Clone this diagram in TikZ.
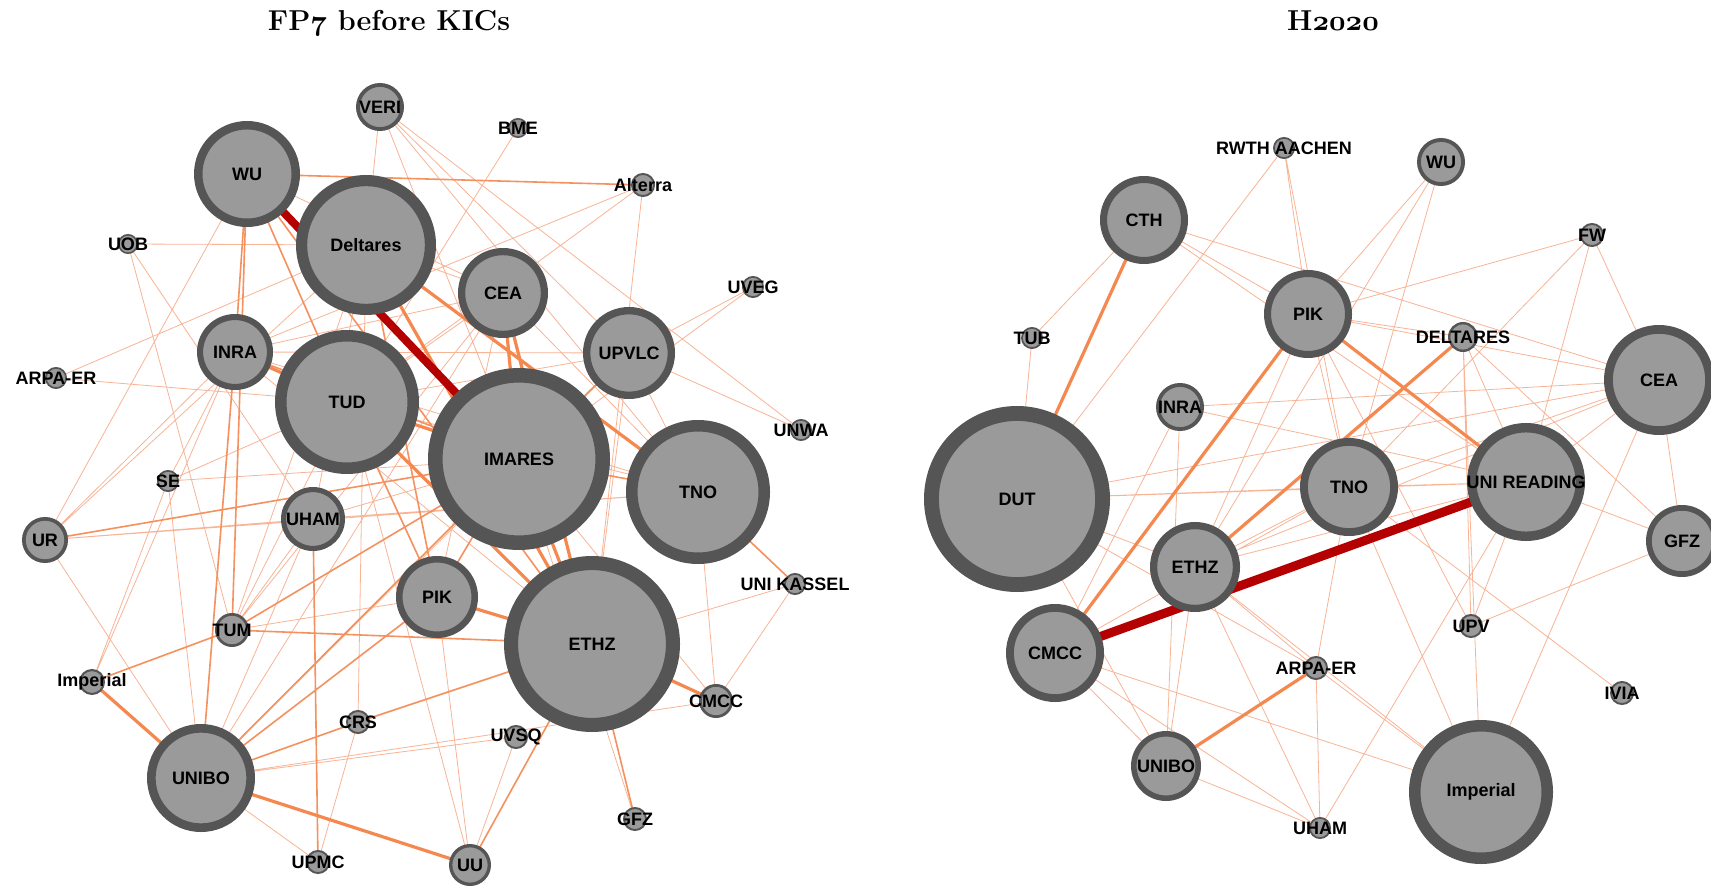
\documentclass[tikz,border=0pt]{standalone}
\usepackage{fontspec}
\newfontfamily\orgfont{Liberation Sans}
\usetikzlibrary{backgrounds}
\definecolor{orgFill}{HTML}{9A9A9A}
\definecolor{orgRim}{HTML}{555555}
\definecolor{lnkPale}{HTML}{F8B596}
\definecolor{lnkMid}{HTML}{F4915E}
\definecolor{lnkBold}{HTML}{F5884F}
\definecolor{lnkRed}{HTML}{B40000}
\newcommand{\osf}[1]{{\fontencoding{OML}\fontfamily{cmm}\fontseries{b}\fontshape{it}\selectfont #1}}
\newcommand{\lbl}{\orgfont\bfseries\fontsize{9}{10}\selectfont}

\tikzset{
  org/.style={circle,draw=orgRim,fill=orgFill,inner sep=0pt,outer sep=0pt,
              line width=0.08pt*#1,minimum size=0.92pt*#1},
  ttl/.style={font=\bfseries\fontsize{14.4}{16}\selectfont,anchor=base,inner sep=0pt},
  lnk/.style={draw=lnkPale,line width=0.4pt},
  lnkmid/.style={draw=lnkMid,line width=0.8pt},
  lnkbold/.style={draw=lnkBold,line width=1.6pt},
  lnkred/.style={draw=lnkRed,line width=4pt}
}

\begin{document}
\begin{tikzpicture}[x=0.5pt,y=-0.5pt,every label/.style={font=\lbl,inner sep=0pt}]
    \path[use as bounding box,clip] (0,0) rectangle (1711,887);

    \node[ttl] (ttlfp) at (389,31) {FP\osf{7} before KICs};
    \node[ttl] (ttlh) at (1333,31) {H\osf{2020}};

    \node[org=24,label=center:VERI] (fveri) at (380,107) {};
    \node[org=10,label=center:BME] (fbme) at (518,128) {};
    \node[org=53,label=center:WU] (fwu) at (247,174) {};
    \node[org=12,label=center:Alterra] (falterra) at (643,185) {};
    \node[org=70,label=center:Deltares] (fdeltares) at (366,245) {};
    \node[org=10,label=center:UOB] (fuob) at (128,244) {};
    \node[org=45,label=center:CEA] (fcea) at (503,293) {};
    \node[org=11,label=center:UVEG] (fuveg) at (753,287) {};
    \node[org=38,label=center:INRA] (finra) at (235,352) {};
    \node[org=46,label=center:UPVLC] (fupvlc) at (629,353) {};
    \node[org=11,label=center:ARPA-ER] (farpa) at (56,378) {};
    \node[org=72,label=center:TUD] (ftud) at (347,402) {};
    \node[org=91,label=center:IMARES] (fimares) at (519,459) {};
    \node[org=11,label=center:UNWA] (funwa) at (801,430) {};
    \node[org=72,label=center:TNO] (ftno) at (698,492) {};
    \node[org=11,label=center:SE] (fse) at (168,481) {};
    \node[org=23,label=center:UR] (fur) at (45,540) {};
    \node[org=32,label=center:UHAM] (fuham) at (313,519) {};
    \node[org=41,label=center:PIK] (fpik) at (437,597) {};
    \node[org=11,label=center:UNI KASSEL] (fkassel) at (795,584) {};
    \node[org=17,label=center:TUM] (ftum) at (232,630) {};
    \node[org=88,label=center:ETHZ] (fethz) at (592,644) {};
    \node[org=13,label=center:Imperial] (fimperial) at (92,682) {};
    \node[org=17,label=center:CMCC] (fcmcc) at (716,701) {};
    \node[org=12,label=center:CRS] (fcrs) at (358,722) {};
    \node[org=12,label=center:UVSQ] (fuvsq) at (516,737) {};
    \node[org=54,label=center:UNIBO] (funibo) at (201,778) {};
    \node[org=12,label=center:GFZ] (fgfz) at (635,819) {};
    \node[org=12,label=center:UPMC] (fupmc) at (318,862) {};
    \node[org=21,label=center:UU] (fuu) at (470,865) {};

    \node[org=11,label=center:RWTH AACHEN] (hrwth) at (1284,148) {};
    \node[org=24,label=center:WU] (hwu) at (1441,162) {};
    \node[org=44,label=center:CTH] (hcth) at (1144,220) {};
    \node[org=12,label=center:FW] (hfw) at (1592,235) {};
    \node[org=11,label=center:TUB] (htub) at (1032,338) {};
    \node[org=44,label=center:PIK] (hpik) at (1308,314) {};
    \node[org=15,label=center:DELTARES] (hdeltares) at (1463,337) {};
    \node[org=55,label=center:CEA] (hcea) at (1659,380) {};
    \node[org=24,label=center:INRA] (hinra) at (1180,407) {};
    \node[org=93,label=center:DUT] (hdut) at (1017,499) {};
    \node[org=49,label=center:TNO] (htno) at (1349,487) {};
    \node[org=59,label=center:UNI READING] (hreading) at (1526,482) {};
    \node[org=36,label=center:GFZ] (hgfz) at (1682,541) {};
    \node[org=45,label=center:ETHZ] (hethz) at (1195,567) {};
    \node[org=12,label=center:UPV] (hupv) at (1471,626) {};
    \node[org=49,label=center:CMCC] (hcmcc) at (1055,653) {};
    \node[org=12,label=center:ARPA-ER] (harpa) at (1316,668) {};
    \node[org=12,label=center:IVIA] (hivia) at (1622,693) {};
    \node[org=35,label=center:UNIBO] (hunibo) at (1166,766) {};
    \node[org=72,label=center:Imperial] (himperial) at (1481,792) {};
    \node[org=11,label=center:UHAM] (huham) at (1320,828) {};

    \begin{scope}[on background layer]
    \fill[white] (0,0) rectangle (1711,887);

    \draw[lnk] (fveri) -- (fdeltares) (fveri) -- (fupvlc) (fveri) -- (funwa) (fveri) -- (ftno) (fveri) -- (fethz)
      (fbme) -- (ftud) (falterra) -- (finra) (falterra) -- (fethz) (falterra) -- (ftud)
      (fuob) -- (fdeltares) (fuob) -- (fuham) (farpa) -- (fdeltares) (farpa) -- (ftud)
      (fuveg) -- (fupvlc) (fuveg) -- (fimares) (funwa) -- (fupvlc)
      (fse) -- (fimares) (fse) -- (finra) (fse) -- (ftud)
      (fur) -- (fuham) (fur) -- (funibo) (fur) -- (finra) (fur) -- (fdeltares) (fur) -- (fwu) (fur) -- (ftno)
      (fimperial) -- (finra) (fimperial) -- (fse)
      (ftum) -- (fuham) (ftum) -- (ftud) (ftum) -- (fdeltares) (ftum) -- (fcea) (ftum) -- (fpik)
      (fcrs) -- (fupmc) (fcrs) -- (fdeltares) (fuvsq) -- (funibo) (fuvsq) -- (fuu)
      (fgfz) -- (fimares) (fuu) -- (fpik) (fuu) -- (ftud) (fupmc) -- (funibo)
      (fkassel) -- (fethz) (fkassel) -- (fcmcc) (fcmcc) -- (ftno) (fcmcc) -- (fimares) (fcmcc) -- (funibo)
      (fpik) -- (fcea) (fuham) -- (fimares) (fuham) -- (fdeltares) (fuham) -- (ftno) (fuham) -- (funibo)
      (ftno) -- (finra) (ftno) -- (ftud) (ftno) -- (fcea) (ftno) -- (fupvlc)
      (fupvlc) -- (fethz) (fupvlc) -- (ftud) (fupvlc) -- (finra) (fupvlc) -- (funibo)
      (fcea) -- (finra) (fcea) -- (ftud) (fcea) -- (funibo) (fcea) -- (fdeltares)
      (finra) -- (fethz) (fwu) -- (fcea) (fuob) -- (ftum) (fse) -- (funibo);
    \draw[lnkmid] (fwu) -- (falterra) (fwu) -- (finra) (fwu) -- (ftum) (finra) -- (funibo)
      (funibo) -- (fimares) (fur) -- (fimares) (fuham) -- (fupmc) (fethz) -- (fgfz) (fethz) -- (fuu)
      (fcrs) -- (fethz) (funibo) -- (fcrs) (fimperial) -- (ftum) (ftum) -- (fethz) (ftno) -- (fkassel)
      (fwu) -- (fethz) (fwu) -- (ftud) (finra) -- (fimares) (fpik) -- (fimares) (fpik) -- (ftud)
      (fdeltares) -- (fpik) (ftum) -- (fimares) (funibo) -- (fpik) (fupvlc) -- (fimares) (ftno) -- (fimares);
    \draw[lnkbold] (fdeltares) -- (ftno) (fdeltares) -- (fethz) (fcea) -- (fethz) (ftud) -- (fethz)
      (ftud) -- (fimares) (finra) -- (ftud) (fpik) -- (fethz) (fethz) -- (fcmcc) (fimperial) -- (funibo)
      (funibo) -- (fuu) (fimares) -- (fethz) (fcea) -- (fimares);
    \draw[lnkred] (fwu) -- (fimares);

    \draw[lnk] (hrwth) -- (hpik) (hrwth) -- (hdut) (hrwth) -- (htno)
      (hwu) -- (hpik) (hwu) -- (hethz) (hwu) -- (htno)
      (hcth) -- (hpik) (hcth) -- (hcea) (hcth) -- (hreading) (htub) -- (hcth) (htub) -- (hdut)
      (hfw) -- (hpik) (hfw) -- (htno) (hfw) -- (hreading) (hfw) -- (hcea)
      (hpik) -- (hcea) (hpik) -- (htno) (hpik) -- (hethz) (hpik) -- (hdeltares) (hpik) -- (hupv)
      (hdeltares) -- (hreading) (hdeltares) -- (hgfz) (hdeltares) -- (himperial) (hdeltares) -- (hupv)
      (hcea) -- (hinra) (hcea) -- (hdut) (hcea) -- (hethz) (hcea) -- (htno) (hcea) -- (hreading)
      (hcea) -- (hgfz) (hcea) -- (himperial)
      (hinra) -- (hreading) (hinra) -- (hunibo) (hinra) -- (hcmcc)
      (hdut) -- (htno) (hdut) -- (hreading) (hdut) -- (hethz) (hdut) -- (harpa) (hdut) -- (hunibo)
      (htno) -- (hethz) (htno) -- (hcmcc) (htno) -- (himperial) (htno) -- (hivia) (htno) -- (harpa)
      (htno) -- (hreading) (hreading) -- (hgfz) (hreading) -- (huham) (hreading) -- (hethz)
      (hreading) -- (hupv) (hgfz) -- (hupv)
      (hethz) -- (harpa) (hethz) -- (huham) (hethz) -- (himperial) (hethz) -- (hunibo)
      (hcmcc) -- (hunibo) (hcmcc) -- (himperial) (hcmcc) -- (huham)
      (harpa) -- (huham) (harpa) -- (himperial) (hunibo) -- (huham);
    \draw[lnkbold] (hcth) -- (hdut) (hpik) -- (hcmcc) (hdeltares) -- (hethz) (hpik) -- (hreading)
      (harpa) -- (hunibo);
    \draw[lnkred,line width=4.5pt] (hcmcc) -- (hreading);
    \end{scope}
\end{tikzpicture}
\end{document}
